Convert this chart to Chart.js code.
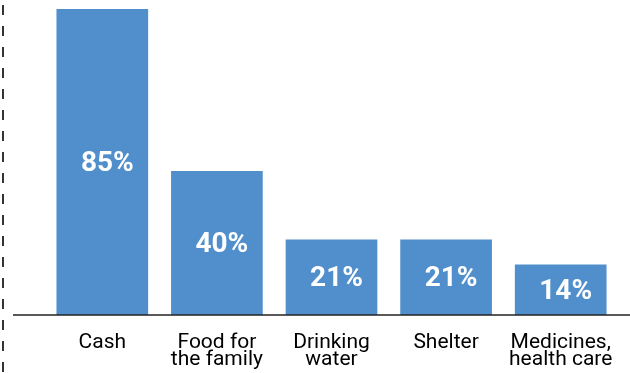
<!DOCTYPE html>
<html>
<head>
<meta charset="utf-8">
<script src="https://cdn.jsdelivr.net/npm/chart.js@4"></script>
<style>
  html, body { margin: 0; padding: 0; background: #fff; }
  #wrap { width: 630px; height: 373px; }
</style>
</head>
<body>
<div id="wrap"><canvas id="needsChart"></canvas></div>
<script>
const categories = [["Cash"], ["Food for", "the family"], ["Drinking", "water"], ["Shelter"], ["Medicines,", "health care"]];
const shares = [85, 40, 21, 21, 14];
const valueLabels = ["85%", "40%", "21%", "21%", "14%"];

const barColor = "#508fcc";

// white % labels inside each bar
const barLabels = {
  id: "barLabels",
  afterDatasetsDraw(chart) {
    const ctx = chart.ctx;
    const meta = chart.getDatasetMeta(0);
    ctx.save();
    ctx.fillStyle = "#fff";
    ctx.font = "bold 28px Roboto";
    ctx.textAlign = "center";
    ctx.textBaseline = "middle";
    meta.data.forEach((bar, i) => {
      const mid = (bar.y + bar.base) / 2;
      ctx.fillText(valueLabels[i], bar.x + 5, mid + 2);
    });
    ctx.restore();
  }
};

// baseline and dashed left rule
const frame = {
  id: "frame",
  beforeDatasetsDraw(chart) {
    const ctx = chart.ctx;
    ctx.save();
    ctx.strokeStyle = "#333";
    ctx.lineWidth = 2;
    ctx.setLineDash([10, 11]);
    ctx.beginPath();
    ctx.moveTo(3, 5);
    ctx.lineTo(3, chart.height);
    ctx.stroke();
    ctx.restore();
  },
  afterDatasetsDraw(chart) {
    const ctx = chart.ctx;
    const y0 = chart.scales.y.getPixelForValue(0);
    ctx.save();
    ctx.strokeStyle = "#222";
    ctx.lineWidth = 1.5;
    ctx.beginPath();
    ctx.moveTo(13, y0);
    ctx.lineTo(chart.width, y0);
    ctx.stroke();
    ctx.restore();
  }
};

new Chart(document.getElementById("needsChart"), {
  type: "bar",
  data: {
    labels: categories,
    datasets: [{
      data: shares,
      backgroundColor: barColor,
      barPercentage: 0.8,
      categoryPercentage: 1
    }]
  },
  options: {
    responsive: true,
    maintainAspectRatio: false,
    animation: false,
    layout: { padding: { left: 45, right: 12, top: 0, bottom: 0 } },
    plugins: { legend: { display: false }, tooltip: { enabled: false } },
    scales: {
      x: {
        grid: { display: false, drawTicks: false },
        border: { display: false },
        ticks: {
          color: "#000",
          font: { family: "Roboto", size: 21, lineHeight: 0.81 },
          padding: 19,
          maxRotation: 0,
          autoSkip: false
        },
        afterFit(scale) {
          scale.height = 58;
          scale.paddingLeft = 0;
          scale.paddingRight = 0;
        }
      },
      y: {
        display: false,
        min: 0,
        max: 87.5
      }
    }
  },
  plugins: [frame, barLabels]
});
</script>
</body>
</html>
